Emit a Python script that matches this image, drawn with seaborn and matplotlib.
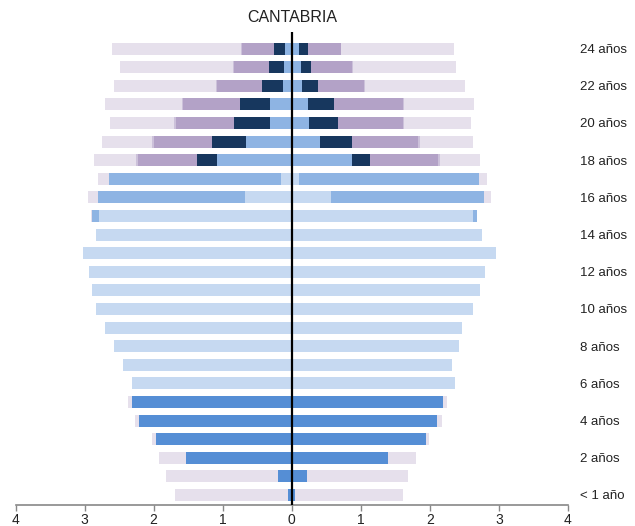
import matplotlib
matplotlib.use("Agg")
import matplotlib.pyplot as plt
import numpy as np
import pandas as pd
import seaborn as sns

# ---------------- data (millares de personas, por edad 0..24) ----------------
edades = list(range(25))
etiquetas_edad = ["< 1 año"] + [f"{e} años" for e in range(1, 25)]

niveles = ["Educación Infantil", "Primaria y ESO", "Bachillerato y FP Grado Medio",
           "FP Grado Superior", "Universidad", "Otros estudios", "No matriculados"]
colores = ["#558ED5", "#C6D9F1", "#8EB4E3", "#17375E", "#B3A2C7", "#CCC1DA", "#E6E0EC"]

# Hombres (lado izquierdo)
h_infantil = [0.06, 0.20, 1.53, 1.96, 2.21, 2.32, 0, 0, 0, 0, 0, 0, 0, 0, 0, 0, 0, 0, 0, 0, 0, 0, 0, 0, 0]
h_eso = [0, 0, 0, 0, 0, 0, 2.31, 2.45, 2.58, 2.71, 2.84, 2.89, 2.93, 3.02, 2.84, 2.79, 0.67, 0.16, 0, 0, 0, 0, 0, 0, 0]
h_bach = [0, 0, 0, 0, 0, 0, 0, 0, 0, 0, 0, 0, 0, 0, 0, 0.10, 2.14, 2.48, 1.08, 0.66, 0.32, 0.31, 0.13, 0.115, 0.10]
h_fps = [0, 0, 0, 0, 0, 0, 0, 0, 0, 0, 0, 0, 0, 0, 0, 0, 0, 0, 0.29, 0.50, 0.52, 0.44, 0.30, 0.22, 0.15]
h_univ = [0, 0, 0, 0, 0, 0, 0, 0, 0, 0, 0, 0, 0, 0, 0, 0, 0, 0, 0.85, 0.83, 0.84, 0.83, 0.65, 0.50, 0.47]
h_otros = [0, 0, 0, 0, 0, 0, 0, 0, 0, 0, 0, 0, 0, 0, 0, 0, 0, 0, 0.04, 0.03, 0.025, 0.01, 0.01, 0.01, 0.01]
h_nomat = [1.63, 1.62, 0.39, 0.07, 0.06, 0.05, 0, 0, 0, 0, 0, 0, 0, 0, 0, 0.01, 0.135, 0.17, 0.61, 0.73, 0.92, 1.12, 1.49, 1.64, 1.87]

# Mujeres (lado derecho)
m_infantil = [0.054, 0.217, 1.40, 1.94, 2.10, 2.19, 0, 0, 0, 0, 0, 0, 0, 0, 0, 0, 0, 0, 0, 0, 0, 0, 0, 0, 0]
m_eso = [0, 0, 0, 0, 0, 0, 2.37, 2.32, 2.42, 2.47, 2.62, 2.72, 2.80, 2.96, 2.75, 2.63, 0.565, 0.10, 0, 0, 0, 0, 0, 0, 0]
m_bach = [0, 0, 0, 0, 0, 0, 0, 0, 0, 0, 0, 0, 0, 0, 0, 0.048, 2.22, 2.61, 0.87, 0.416, 0.256, 0.23, 0.145, 0.13, 0.10]
m_fps = [0, 0, 0, 0, 0, 0, 0, 0, 0, 0, 0, 0, 0, 0, 0, 0, 0, 0, 0.26, 0.45, 0.415, 0.377, 0.23, 0.155, 0.13]
m_univ = [0, 0, 0, 0, 0, 0, 0, 0, 0, 0, 0, 0, 0, 0, 0, 0, 0, 0, 0.985, 0.96, 0.94, 1.00, 0.67, 0.59, 0.48]
m_otros = [0, 0, 0, 0, 0, 0, 0, 0, 0, 0, 0, 0, 0, 0, 0, 0, 0, 0, 0.03, 0.034, 0.01, 0.025, 0.01, 0.01, 0.01]
m_nomat = [1.56, 1.47, 0.40, 0.05, 0.07, 0.058, 0, 0, 0, 0, 0, 0, 0, 0, 0, 0, 0.10, 0.12, 0.58, 0.76, 0.97, 1.01, 1.46, 1.50, 1.63]

xticks = [-4, -3, -2, -1, 0, 1, 2, 3, 4]
xticklabels = ["4", "3", "2", "1", "0", "1", "2", "3", "4"]

hombres = [h_infantil, h_eso, h_bach, h_fps, h_univ, h_otros, h_nomat]
mujeres = [m_infantil, m_eso, m_bach, m_fps, m_univ, m_otros, m_nomat]

# ---------------- figure ----------------
sns.set_theme(style="white")
plt.rcParams["font.family"] = ["Liberation Sans", "DejaVu Sans"]

fig = plt.figure(figsize=(6.35, 5.26), dpi=100)
ax = fig.add_axes([15.5 / 635, 1 - 505 / 526, (568 - 15.5) / 635, (505 - 32) / 526])

for signo, lado in ((-1, hombres), (1, mujeres)):
    acum = np.cumsum(np.array(lado, dtype=float), axis=0)
    # draw outermost cumulative first, then inner ones on top
    for i in range(len(niveles) - 1, -1, -1):
        df = pd.DataFrame({"edad": edades, "valor": signo * acum[i]})
        sns.barplot(data=df, x="valor", y="edad", orient="h", native_scale=True,
                    color=colores[i], saturation=1, width=0.65, errorbar=None,
                    linewidth=0, edgecolor="none", ax=ax)

ax.axvline(0, color="black", lw=1.6, zorder=5)

ax.set_xlim(-4, 4)
ax.set_ylim(-0.54, 24.89)
ax.set_xticks(xticks)
ax.set_xticklabels(xticklabels, fontsize=10, color="#222222")
ax.tick_params(axis="x", direction="out", length=4, width=1, color="#888888", pad=2, bottom=True)

ax.yaxis.tick_right()
ax.set_yticks(edades[::2])
ax.set_yticklabels(etiquetas_edad[::2], fontsize=9.5, color="#222222")
ax.tick_params(axis="y", length=0, pad=9)

for s in ("top", "left", "right"):
    ax.spines[s].set_visible(False)
ax.spines["bottom"].set_color("#888888")
ax.spines["bottom"].set_linewidth(1.2)

ax.set_xlabel("")
ax.set_ylabel("")
ax.set_title("CANTABRIA", fontsize=11.5, pad=7, color="#222222")
ax.grid(False)

fig.savefig("out.png", dpi=100)
